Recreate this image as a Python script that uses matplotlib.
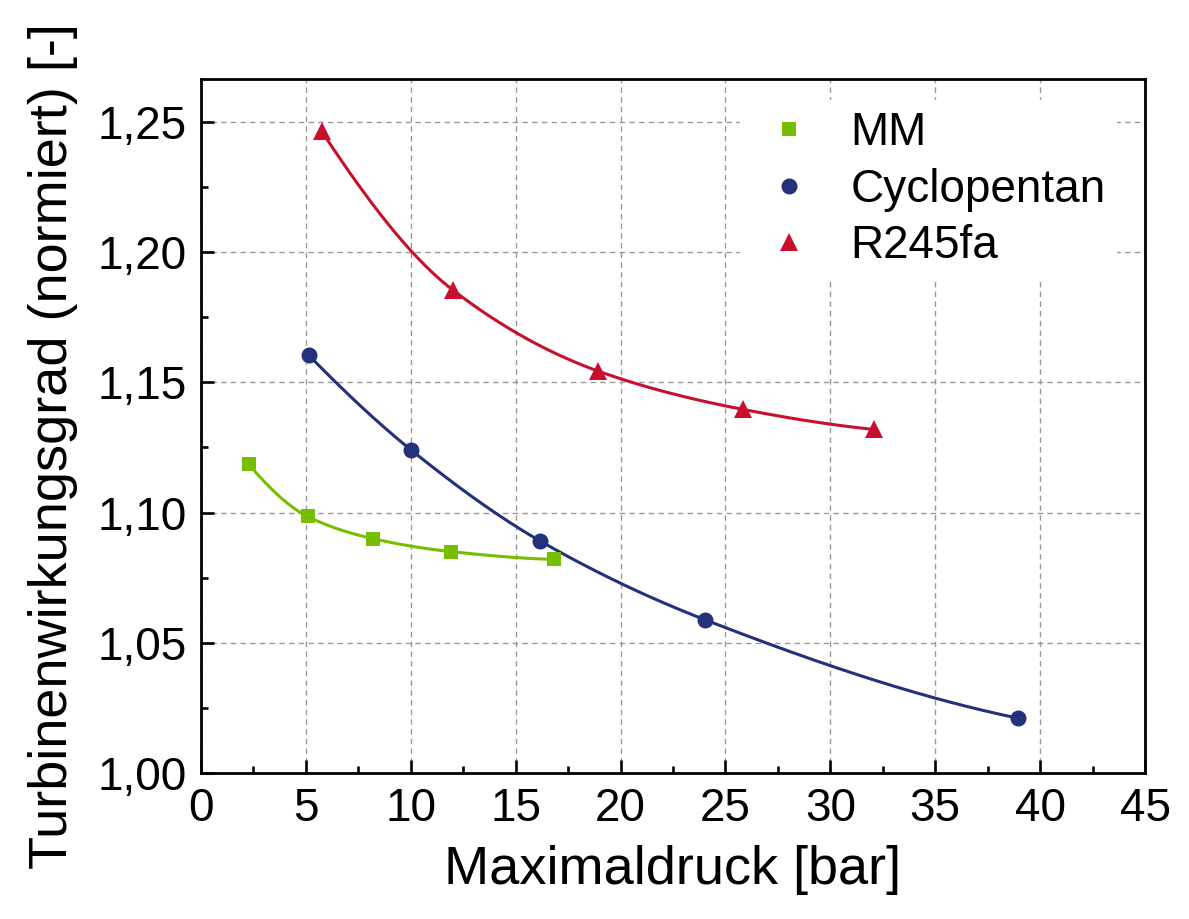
import numpy as np
import matplotlib
matplotlib.use("Agg")
import matplotlib.pyplot as plt
from matplotlib.ticker import MultipleLocator, FuncFormatter

# Data
mm_p = [2.27, 5.08, 8.18, 11.9, 16.85]
mm_eta = [1.1185, 1.0985, 1.0900, 1.0850, 1.0820]

cp_p = [5.13, 9.99, 16.16, 24.03, 38.95]
cp_eta = [1.1605, 1.1242, 1.0891, 1.0588, 1.0210]

r_p = [5.75, 12.0, 18.94, 25.84, 32.1]
r_eta = [1.2465, 1.1855, 1.1543, 1.1396, 1.1319]

labels = ["MM", "Cyclopentan", "R245fa"]
colors = ["#78be00", "#22317a", "#c8102e"]
markers = ["s", "o", "^"]
msizes = [10, 11.5, 12.5]


def pchip(x, y, xs):
    # monotone cubic hermite interpolation for the smooth connecting curve
    x = np.asarray(x, float)
    y = np.asarray(y, float)
    h = np.diff(x)
    d = np.diff(y) / h
    n = len(x)
    m = np.zeros(n)
    for k in range(1, n - 1):
        if d[k - 1] * d[k] > 0:
            w1 = 2 * h[k] + h[k - 1]
            w2 = h[k] + 2 * h[k - 1]
            m[k] = (w1 + w2) / (w1 / d[k - 1] + w2 / d[k])
    m[0] = ((2 * h[0] + h[1]) * d[0] - h[0] * d[1]) / (h[0] + h[1])
    if np.sign(m[0]) != np.sign(d[0]):
        m[0] = 0
    elif np.sign(d[0]) != np.sign(d[1]) and abs(m[0]) > abs(3 * d[0]):
        m[0] = 3 * d[0]
    m[-1] = ((2 * h[-1] + h[-2]) * d[-1] - h[-1] * d[-2]) / (h[-1] + h[-2])
    if np.sign(m[-1]) != np.sign(d[-1]):
        m[-1] = 0
    idx = np.clip(np.searchsorted(x, xs) - 1, 0, n - 2)
    t = (xs - x[idx]) / h[idx]
    h00 = 2 * t**3 - 3 * t**2 + 1
    h10 = t**3 - 2 * t**2 + t
    h01 = -2 * t**3 + 3 * t**2
    h11 = t**3 - t**2
    return h00 * y[idx] + h10 * h[idx] * m[idx] + h01 * y[idx + 1] + h11 * h[idx] * m[idx + 1]


plt.rcParams["font.family"] = ["Liberation Sans", "DejaVu Sans"]

fig = plt.figure(figsize=(11.89, 9.19), dpi=100)
ax = fig.add_axes([0.169, 0.159, 0.794, 0.755])

series = [(mm_p, mm_eta), (cp_p, cp_eta), (r_p, r_eta)]
for (px, py), lab, c, mk, ms in zip(series, labels, colors, markers, msizes):
    xs = np.linspace(px[0], px[-1], 300)
    ax.plot(xs, pchip(px, py, xs), color=c, lw=2.2, zorder=3)
    ax.plot(px, py, linestyle="none", marker=mk, color=c, ms=ms,
            markeredgewidth=0, label=lab, zorder=4)

ax.set_xlim(0, 45)
ax.set_ylim(1.0, 1.2665)
ax.xaxis.set_major_locator(MultipleLocator(5))
ax.xaxis.set_minor_locator(MultipleLocator(2.5))
ax.yaxis.set_major_locator(MultipleLocator(0.05))
ax.yaxis.set_minor_locator(MultipleLocator(0.025))
ax.yaxis.set_major_formatter(FuncFormatter(lambda v, pos: f"{v:.2f}".replace(".", ",")))

ax.grid(True, which="major", linestyle=(0, (4, 3)), color="#999999", lw=1.0, zorder=0)
ax.tick_params(which="major", direction="in", length=9.5, width=1.9, labelsize=33, pad=10)
ax.tick_params(which="minor", direction="in", length=5, width=1.9)
for s in ax.spines.values():
    s.set_linewidth(2.0)

ax.set_xlabel("Maximaldruck [bar]", fontsize=39, labelpad=10)
ax.set_ylabel("Turbinenwirkungsgrad (normiert) [-]", fontsize=39)
ax.yaxis.set_label_coords(-0.13, 0.471)

leg = ax.legend(loc="upper right", bbox_to_anchor=(0.985, 0.99), fontsize=33,
                frameon=True, framealpha=1, facecolor="white", edgecolor="none",
                handletextpad=0.55, labelspacing=0.27, borderpad=0.25,
                handlelength=1.6, borderaxespad=0.3, fancybox=False)
leg.set_zorder(5)

plt.savefig("out.png", dpi=100)
